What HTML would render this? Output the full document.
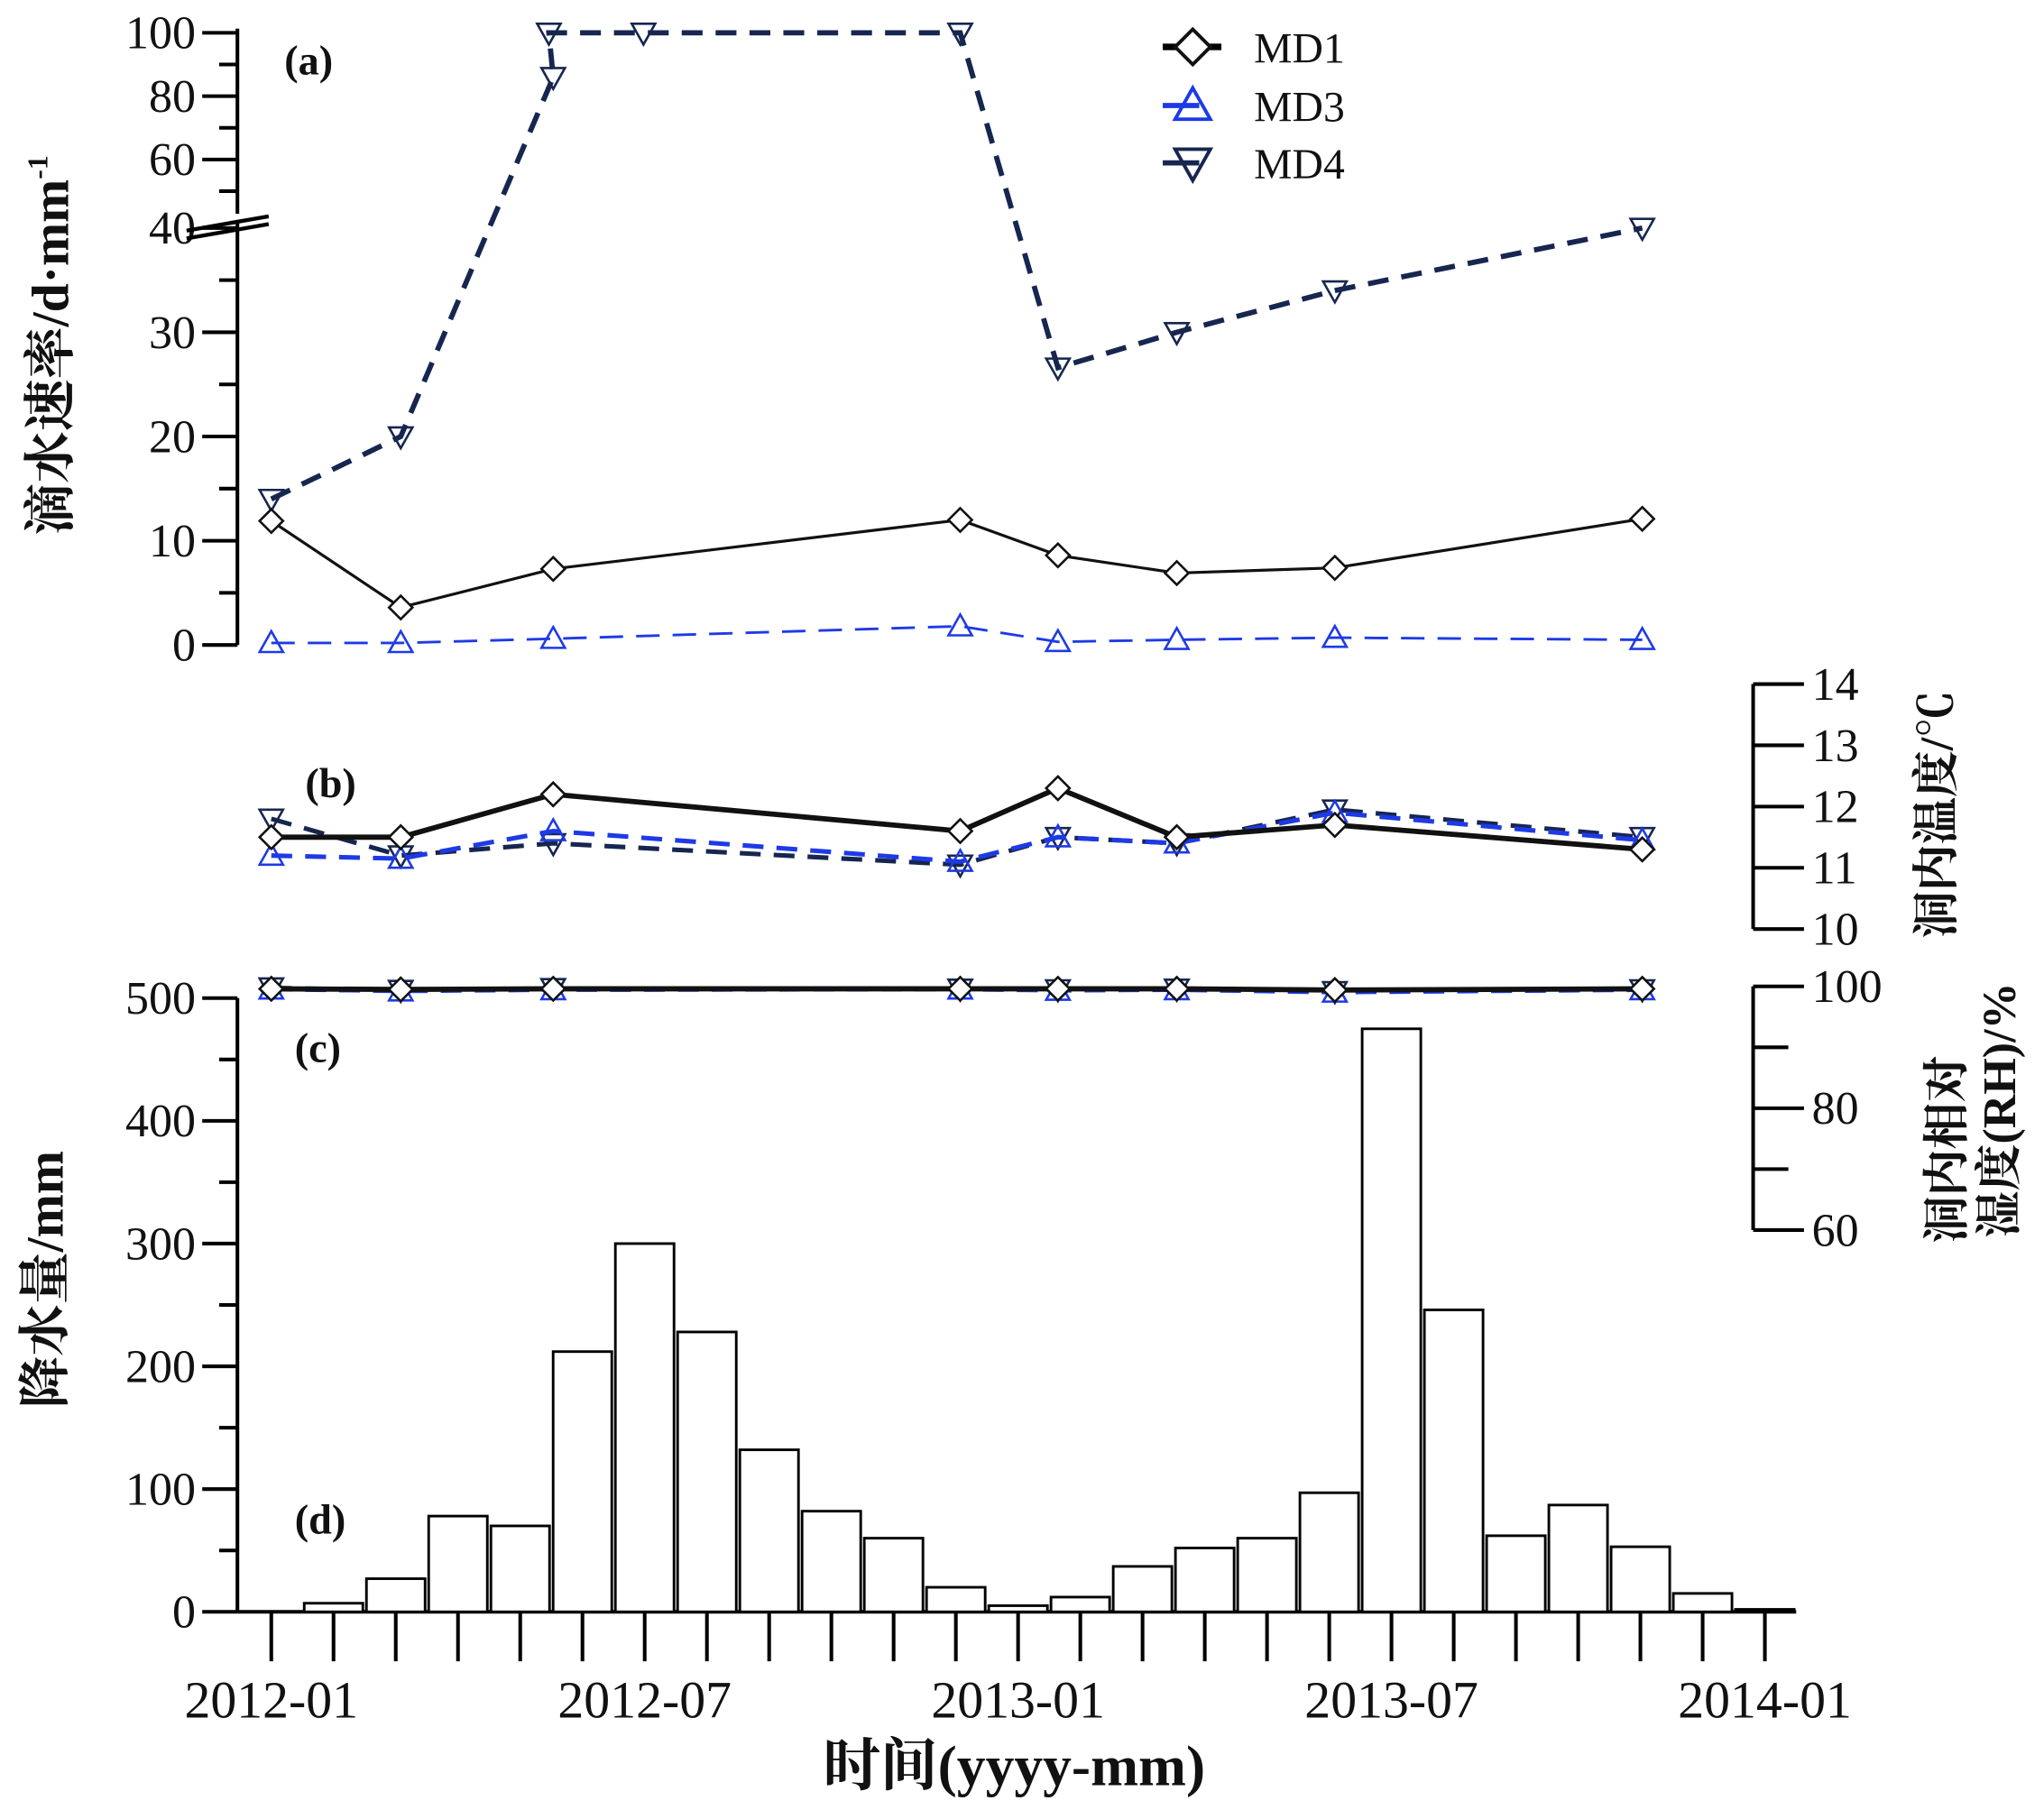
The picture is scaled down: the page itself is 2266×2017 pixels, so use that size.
<!DOCTYPE html>
<html><head><meta charset="utf-8"><style>html,body{margin:0;padding:0;background:#fff}svg{display:block}text{font-family:"Liberation Serif","Noto Serif CJK SC",serif;fill:#111}</style></head>
<body>
<svg id="chart" xmlns="http://www.w3.org/2000/svg" width="2266" height="2017" viewBox="0 0 1568 1396">
<g id="axes"></g>
<g id="marks"></g>
<g id="labels">
<text x="218" y="57" font-size="32" font-weight="bold">(a)</text>
<text x="234" y="612" font-size="32" font-weight="bold">(b)</text>
<text x="226" y="815" font-size="32" font-weight="bold">(c)</text>
<text x="226" y="1177" font-size="32" font-weight="bold">(d)</text>
<text transform="translate(52,265) rotate(-90)" text-anchor="middle" font-size="40" font-weight="bold">滴水速率/d·mm<tspan dy="-16" font-size="22">-1</tspan></text>
<text transform="translate(48,982) rotate(-90)" text-anchor="middle" font-size="40" font-weight="bold">降水量/mm</text>
<text transform="translate(1498,625) rotate(-90)" text-anchor="middle" font-size="36" font-weight="bold">洞内温度/℃</text>
<text transform="translate(1506,882) rotate(-90)" text-anchor="middle" font-size="36" font-weight="bold">洞内相对</text>
<text transform="translate(1546,852) rotate(-90)" text-anchor="middle" font-size="36" font-weight="bold">湿度(RH)/%</text>
<text x="778" y="1370" text-anchor="middle" font-size="44" font-weight="bold">时间(yyyy-mm)</text>
</g>
<g id="legend"></g>
</svg>
<script>
const NS="http://www.w3.org/2000/svg";
// data (months since 2012-01)
const sampleMonths=[0,2.08,4.53,11.07,12.64,14.55,17.09,22.03];
const md4Months=[0,2.08,4.53,4.46,5.98,11.07,12.64,14.55,17.09,22.03];
const md4Drip=[14,20,86,100,100,100,26.6,30,34,40];
const md1Drip=[11.9,3.6,7.3,12,8.6,6.9,7.4,12.1];
const md3Drip=[0.2,0.2,0.6,1.8,0.3,0.5,0.7,0.5];
const md1Temp=[11.5,11.5,12.2,11.6,12.3,11.5,11.7,11.3];
const md3Temp=[11.2,11.15,11.6,11.1,11.5,11.4,11.9,11.45];
const md4Temp=[11.8,11.2,11.4,11.05,11.5,11.4,11.95,11.5];
const md1RH=[99.6,99.5,99.6,99.6,99.6,99.6,99.4,99.6];
const md3RH=[99.5,99.2,99.4,99.5,99.3,99.4,99.0,99.4];
const md4RH=[99.8,99.4,99.7,99.6,99.5,99.6,99.2,99.5];
const rainValues=[0,7,27,78,70,212,300,228,132,82,60,20,5,12,37,52,60,97,475,246,62,87,53,15,2];
const dripTicks=[0,10,20,30,40];
const dripTicksUpper=[60,80,100];
const tempTicks=[10,11,12,13,14];
const rhTicks=[60,80,100];
const rainTicks=[0,100,200,300,400,500];
const xTickLabels=["2012-01","2012-07","2013-01","2013-07","2014-01"];

const X=m=>208+m*47.75;
const YD=v=>v<=40?495-8*v:171-(v-40)*2.43;
const YT=v=>713-(v-10)*47;
const YRH=v=>757-(v-100)*4.675;
const YR=v=>1237-v*0.942;

const axes=document.getElementById('axes'),marks=document.getElementById('marks'),legend=document.getElementById('legend');
function mk(tag,a,p){const e=document.createElementNS(NS,tag);for(const k in a)e.setAttribute(k,a[k]);p.appendChild(e);return e;}
function line(x1,y1,x2,y2,p,w){return mk('line',{x1,y1,x2,y2,stroke:'#000','stroke-width':w||2.8},p);}
function txt(x,y,s,anchor,p,size){const t=mk('text',{x,y,'text-anchor':anchor,'font-size':size||36},p);t.textContent=s;return t;}

let e=line(182,495,182,171,axes);
e=line(182,164,182,22,axes);
dripTicks.forEach(v=>{line(155,YD(v),182,YD(v),axes);e=txt(150,YD(v)+12,String(v),'end',axes);});
for(let v=5;v<40;v+=10)line(168,YD(v),182,YD(v),axes);
dripTicksUpper.forEach(v=>{line(155,YD(v),182,YD(v),axes);e=txt(150,YD(v)+12,String(v),'end',axes);});
[50,70,90].forEach(v=>line(168,YD(v),182,YD(v),axes));
line(143,177,206,166,axes,3);line(143,183,206,172,axes,3);
e=line(1345,525,1345,713,axes);
tempTicks.forEach(v=>{line(1345,YT(v),1384,YT(v),axes);e=txt(1390,YT(v)+12,String(v),'start',axes);});
e=line(1345,757,1345,944,axes);
rhTicks.forEach(v=>{line(1345,YRH(v),1384,YRH(v),axes);e=txt(1390,YRH(v)+12,String(v),'start',axes);});
[70,90].forEach(v=>line(1345,YRH(v),1372,YRH(v),axes));
e=line(182,766,182,1237,axes);
rainTicks.forEach(v=>{line(155,YR(v),182,YR(v),axes);e=txt(150,YR(v)+12,String(v),'end',axes);});
for(let v=50;v<500;v+=100)line(168,YR(v),182,YR(v),axes);
e=line(182,1237,1378,1237,axes);
for(let m=0;m<=24;m++)line(X(m),1237,X(m),1275,axes);
xTickLabels.forEach((s,i)=>{e=txt(X(i*6),1318,s,'middle',axes,40);});

rainValues.forEach((v,i)=>{if(v<=0)return;const b=mk('rect',{x:X(i)-22.5,y:YR(v),width:45,height:1237-YR(v),fill:'#fff',stroke:'#000','stroke-width':2},marks);

});

function marker(type,x,y,color,p){
 if(type==='d')return mk('polygon',{points:`${x},${y-9} ${x+9},${y} ${x},${y+9} ${x-9},${y}`,fill:'#fff',stroke:color,'stroke-width':1.8},p);
 if(type==='u')return mk('polygon',{points:`${x},${y-9} ${x+9},${y+7} ${x-9},${y+7}`,fill:'none',stroke:color,'stroke-width':1.8},p);
 return mk('polygon',{points:`${x-9},${y-7} ${x+9},${y-7} ${x},${y+9}`,fill:'none',stroke:color,'stroke-width':1.8},p);
}
function series(xs,vals,yf,color,w,dash,type,name){
 const g=mk('g',{},marks);
 
 
 const pts=xs.map((m,i)=>X(m)+','+yf(vals[i])).join(' ');
 mk('polyline',{points:pts,fill:'none',stroke:color,'stroke-width':w,'stroke-dasharray':dash||'none'},g);
 xs.forEach((m,i)=>{const k=marker(type,X(m),yf(vals[i]),color,g);});
}
const BLUE='#1e3ae6',NAVY='#16264f';
series(md4Months,md4Drip,YD,NAVY,4,'16,10','v','md4-drip');
series(sampleMonths,md1Drip,YD,'#111',2.2,null,'d','md1-drip');
series(sampleMonths,md3Drip,YD,BLUE,2,'18,10','u','md3-drip');
series(sampleMonths,md4Temp,YT,NAVY,3.5,'16,10','v','md4-temp');
series(sampleMonths,md3Temp,YT,BLUE,3.5,'16,10','u','md3-temp');
series(sampleMonths,md1Temp,YT,'#111',4,null,'d','md1-temp');
series(sampleMonths,md4RH,YRH,NAVY,3,'16,10','v','md4-rh');
series(sampleMonths,md3RH,YRH,BLUE,3,'16,10','u','md3-rh');
series(sampleMonths,md1RH,YRH,'#111',4,null,'d','md1-rh');

const leg=[['MD1','#111','d',null,36],['MD3',BLUE,'u','1',81],['MD4',NAVY,'v','1',125]];
leg.forEach(([n,c,t,d,y])=>{const g=mk('g',{},legend);
 
 
 if(d)line(892,y,920,y,g,4).setAttribute('stroke',c);else line(892,y,937,y,g,5);
 const m=marker(t,915,y,c,g);m.setAttribute('transform',`translate(915,${y}) scale(1.5) translate(-915,${-y})`);
 txt(962,y+12,n,'start',g,33);});
</script>
</body></html>
